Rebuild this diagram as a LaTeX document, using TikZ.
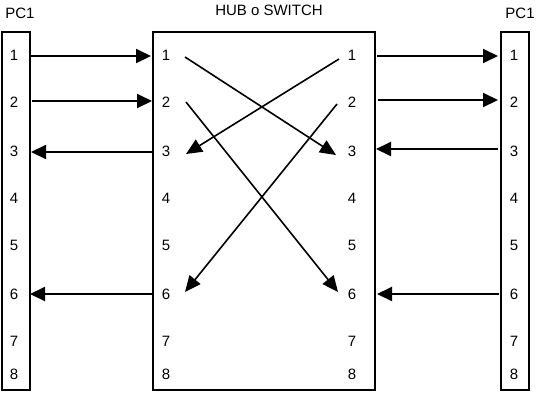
\documentclass[tikz,border=0pt]{standalone}
\usepackage{fontspec}
\setmainfont{Liberation Sans}
\usetikzlibrary{arrows.meta}
\begin{document}
\begin{tikzpicture}[x=1pt,y=-1pt,
  boxframe/.style={draw=black,line width=2pt},
  numlabel/.style={inner sep=0pt,font=\fontsize{15}{17}\selectfont},
  titlelabel/.style={inner sep=0pt,font=\fontsize{15}{17}\selectfont},
  straight/.style={line width=2pt,-{Triangle[length=15pt,width=14pt]}},
  crossing/.style={line width=1.6pt,-{Triangle[length=16pt,width=14pt]}}]
\useasboundingbox (0,0) rectangle (537,400);
% boxes
\draw[boxframe] (2,32) rectangle (30,390);
\draw[boxframe] (153,32) rectangle (375,390);
\draw[boxframe] (501,32) rectangle (529,390);
% titles
\node[titlelabel] (tl) at (20,13) {PC1};
\node[titlelabel] (th) at (269,10) {HUB o SWITCH};
\node[titlelabel] (tr) at (520,13) {PC1};
% numbers
\foreach \n/\y in {1/55,2/102,3/151,4/198,5/245,6/294,7/341,8/374}{
  \node[numlabel] (a\n) at (14,\y) {\n};
  \node[numlabel] (b\n) at (166,\y) {\n};
  \node[numlabel] (c\n) at (352,\y) {\n};
  \node[numlabel] (d\n) at (514,\y) {\n};
}
% endpoints
\coordinate (pl1) at (31,56);   \coordinate (hl1) at (151,56);
\coordinate (pl2) at (32,101);  \coordinate (hl2) at (152,101);
\coordinate (pl3) at (31,152);  \coordinate (hl3) at (153,152);
\coordinate (pl6) at (30,294);  \coordinate (hl6) at (152,294);
\coordinate (hr1) at (377,56);  \coordinate (pr1) at (498,56);
\coordinate (hr2) at (378,100); \coordinate (pr2) at (498,100);
\coordinate (hr3) at (376,149); \coordinate (pr3) at (498,149);
\coordinate (hr6) at (377,294); \coordinate (pr6) at (499,294);
% inner cross endpoints
\coordinate (xa1) at (185,57);  \coordinate (xa3) at (336,155);
\coordinate (xb1) at (339,59);  \coordinate (xb3) at (186,154);
\coordinate (xc2) at (186,102); \coordinate (xc6) at (338,292);
\coordinate (xd2) at (337,104); \coordinate (xd6) at (185,292);
% straight arrows
\draw[straight] (pl1) -- (hl1);
\draw[straight] (pl2) -- (hl2);
\draw[straight] (hl3) -- (pl3);
\draw[straight] (hl6) -- (pl6);
\draw[straight] (hr1) -- (pr1);
\draw[straight] (hr2) -- (pr2);
\draw[straight] (pr3) -- (hr3);
\draw[straight] (pr6) -- (hr6);
% crossing arrows
\draw[crossing] (xa1) -- (xa3);
\draw[crossing] (xb1) -- (xb3);
\draw[crossing] (xc2) -- (xc6);
\draw[crossing] (xd2) -- (xd6);
\end{tikzpicture}
\end{document}
